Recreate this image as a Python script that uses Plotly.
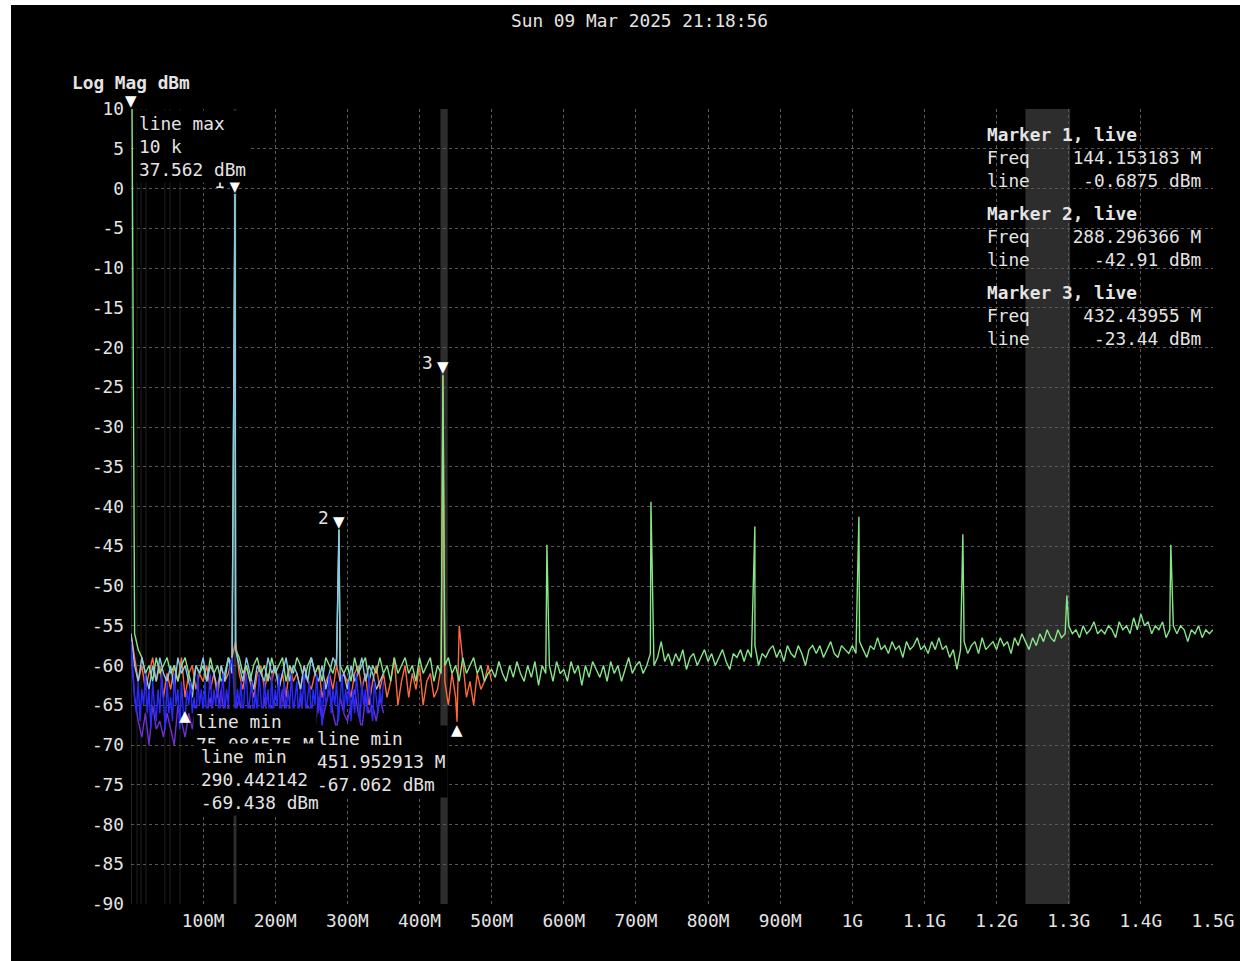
import plotly.graph_objects as go

# ---------------- data ----------------
title_text = "Sun 09 Mar 2025 21:18:56"
y_title = "Log Mag dBm"

x_tick_vals_mhz = [100, 200, 300, 400, 500, 600, 700, 800, 900, 1000, 1100, 1200, 1300, 1400, 1500]
x_tick_text = ["100M", "200M", "300M", "400M", "500M", "600M", "700M", "800M", "900M",
               "1G", "1.1G", "1.2G", "1.3G", "1.4G", "1.5G"]
y_tick_vals = [10, 5, 0, -5, -10, -15, -20, -25, -30, -35, -40, -45, -50, -55, -60, -65, -70, -75, -80, -85, -90]

# live trace (green), 0..1500 MHz, 5 MHz step
green_start, green_step = 0.0, 5.0
green_vals = [
    37.6, -56, -58, -59, -61, -60, -62, -59, -61, -60,
    -59, -61, -60, -62, -60, -59, -61, -63, -60, -61,
    -60, -62, -59, -61, -60, -62, -61, -59, -60, -58,
    -59, -61, -60, -62, -60, -59, -61, -60, -62, -59,
    -61, -60, -59, -62, -60, -61, -59, -60, -62, -60,
    -59, -61, -60, -62, -59, -60, -61, -59, -60, -61,
    -60, -62, -59, -61, -60, -59, -62, -60, -61, -59,
    -61, -60, -62, -59, -61, -60, -59, -61, -60, -62,
    -59, -61, -60, -59, -62, -60, -61, -60, -59, -61,
    -60, -62, -59, -61, -60, -59, -61, -60, -62, -61,
    -60.5, -61.5, -59.5, -61, -62, -60, -61.5, -59.5, -61, -62,
    -60, -61.5, -59.5, -62.5, -60, -61, -60, -62, -59.5, -61,
    -60.5, -62, -59.5, -61, -60, -62.5, -60, -61.5, -59.5, -60.5,
    -61.5, -60, -62, -59.5, -61, -60, -62, -60.5, -59, -61,
    -60, -59.5, -61, -60, -58.5, -60, -59, -57, -59.5, -58.5,
    -60, -58.5, -59.5, -58, -60.5, -59, -58.5, -60, -59, -58,
    -59.5, -58.5, -60, -59, -58, -59.5, -60.5, -58.5, -59, -58,
    -59.5, -58, -59, -57.5, -60, -58.5, -59, -58, -57.5, -59,
    -58, -59.5, -57.5, -58.5, -59, -57.5, -58.5, -60, -58, -57.5,
    -58.5, -57.5, -59, -58, -57, -58.5, -59, -57.5, -58, -58.5,
    -57.5, -58.5, -57, -58, -59, -57.5, -58, -56.5, -58, -57.5,
    -58.5, -57, -58, -57.5, -59, -57, -58, -57.5, -56.5, -58,
    -57.5, -58.5, -57, -58, -56.5, -58, -57.5, -59, -58, -60.5,
    -58, -57, -58.5, -57.5, -57, -58.5, -56.5, -58, -57.5, -57,
    -58, -56.5, -57.5, -57, -58.5, -56.5, -57.5, -56, -57, -58,
    -56.5, -57.5, -56, -57, -55.5, -56.5, -57, -55.5, -56.5, -56,
    -55, -56, -55.5, -56.5, -55, -56, -55.5, -54.5, -56, -55.5,
    -56, -55, -55.5, -56.5, -54.5, -55.5, -55, -56, -54, -55.5,
    -53.5, -55, -54.5, -56, -55, -55.5, -54.5, -56.5, -55.5, -55,
    -56, -55, -55.5, -57, -55.5, -56, -55, -56.5, -55.5, -56,
    -55.5,
]
green_spike_mhz = [144.153183, 288.296366, 432.43955, 576.6, 720.8, 864.9, 1009.1, 1153.2, 1297.4, 1441.5]
green_spike_dbm = [-0.6875, -42.91, -23.44, -44.8, -39.4, -42.5, -41.3, -43.5, -51.2, -44.8]

# blue trace, 0..350 MHz, 2.5 MHz step
blue_start, blue_step = 0.0, 2.5
blue_vals = [
    -57, -61, -64, -66, -62, -67, -63, -65, -61, -66,
    -63, -68, -62, -65, -67, -63, -66, -61, -65, -68,
    -62, -66, -64, -67, -61, -65, -63, -68, -62, -66,
    -67, -63, -65, -62, -66, -64, -68, -61, -65, -63,
    -66, -62, -67, -64, -61, -66, -63, -65, -62, -67,
    -64, -61, -66, -63, -65, -60, -59, -62, -66, -63,
    -65, -62, -67, -63, -61, -66, -64, -62, -67, -63,
    -66, -61, -64, -67, -62, -65, -63, -68, -61, -66,
    -63, -65, -61, -67, -64, -62, -66, -63, -65, -61,
    -66, -64, -62, -67, -63, -65, -61, -66, -64, -62,
    -67, -63, -65, -61, -66, -63, -68, -62, -65, -64,
    -61, -66, -63, -65, -62, -67, -64, -61, -66, -63,
    -65, -62, -67, -63, -66, -61, -64, -67, -62, -65,
    -63, -66, -61, -65, -67, -62, -64, -66, -63, -65,
    -62,
]

# purple trace, 0..350 MHz, 5 MHz step
purple_start, purple_step = 0.0, 5.0
purple_vals = [
    -58, -64, -67, -69, -66, -70, -65, -68, -67, -69,
    -66, -68, -70, -65, -67, -69, -66, -68, -65, -67,
    -69, -66, -64, -68, -66, -63, -67, -65, -68, -66,
    -64, -67, -69, -65, -67, -66, -68, -64, -67, -65,
    -68, -66, -63, -67, -65, -69, -66, -64, -67, -65,
    -66, -68, -64, -67, -65, -63, -66, -68, -64, -66,
    -67, -65, -63, -66, -68, -64, -66, -65, -67, -64,
    -66,
]

# orange trace, 0..500 MHz, 5 MHz step
orange_start, orange_step = 0.0, 5.0
orange_vals = [
    -56, -59, -62, -60, -63, -61, -59, -62, -60, -64,
    -61, -63, -60, -62, -59, -64, -61, -60, -63, -61,
    -62, -60, -63, -61, -64, -60, -62, -61, -59, -57,
    -61, -63, -60, -62, -64, -61, -60, -63, -61, -62,
    -60, -63, -61, -64, -60, -62, -61, -63, -60, -62,
    -63, -61, -60, -64, -62, -61, -63, -60, -62, -61,
    -62, -64, -61, -60, -63, -61, -65, -62, -60, -63,
    -61, -64, -62, -59, -65, -62, -60, -64, -61, -63,
    -60, -65, -62, -61, -64, -63, -60, -62, -65, -61,
    -64, -55, -60, -64, -62, -65, -61, -63, -62, -60,
    -62,
]
orange_spike_mhz = [432.43955, 451.952913]
orange_spike_dbm = [-23.6, -67.062]

# light blue trace, 0..350 MHz, 5 MHz step
lblue_start, lblue_step = 0.0, 5.0
lblue_vals = [
    -56, -60, -62, -59, -61, -63, -60, -62, -59, -61,
    -62, -60, -63, -59, -61, -60, -62, -64, -60, -61,
    -59, -62, -60, -61, -63, -60, -62, -59, -61, -58,
    -60, -62, -59, -61, -63, -60, -61, -62, -59, -61,
    -60, -63, -61, -59, -62, -60, -61, -63, -60, -62,
    -59, -61, -62, -60, -63, -61, -59, -60, -62, -61,
    -63, -60, -62, -61, -59, -62, -60, -61, -63, -62,
    -61,
]
lblue_spike_mhz = [144.153183, 288.296366]
lblue_spike_dbm = [-0.6875, -42.91]

# markers
peak_names = ["1", "2", "3"]
peak_mhz = [144.153183, 288.296366, 432.43955]
peak_dbm = [-0.6875, -42.91, -23.44]
peak_freq_text = ["144.153183 M", "288.296366 M", "432.43955 M"]
peak_level_text = ["-0.6875 dBm", "-42.91 dBm", "-23.44 dBm"]

max_mhz = 0.01
max_text = ["line max", "10 k", "37.562 dBm"]

min_mhz = [75.084575, 290.442142, 451.952913]
min_dbm = [-65.4, -69.438, -67.062]
min_text = [["line min", "75.084575 M", "-65.412 dBm"],
            ["line min", "290.442142 M", "-69.438 dBm"],
            ["line min", "451.952913 M", "-67.062 dBm"]]

# grey frequency bands (MHz)
band_lo = [0.3, 7.8, 13.4, 20.3, 46.5, 53.5, 67.5, 142.2, 429.0, 1240.0]
band_hi = [1.3, 8.8, 14.4, 21.3, 47.5, 54.5, 68.5, 146.2, 439.0, 1302.0]

# ---------------- helpers ----------------
def build(start, step, vals, sp_f=(), sp_v=()):
    pts = [(start + i * step, v) for i, v in enumerate(vals)] + list(zip(sp_f, sp_v))
    pts.sort(key=lambda p: p[0])
    return [p[0] * 1e6 for p in pts], [p[1] for p in pts]

MONO = "DejaVu Sans Mono"
FS = 17.8
TXT = "#e4e4e4"

fig = go.Figure()

def add(xs, ys, color, w=1.4):
    fig.add_trace(go.Scatter(x=xs, y=ys, mode="lines", line=dict(color=color, width=w),
                             hoverinfo="skip"))

add(*build(purple_start, purple_step, purple_vals), "#6d2fd6")
add(*build(orange_start, orange_step, orange_vals, orange_spike_mhz, orange_spike_dbm), "#ff6a3c")
add(*build(green_start, green_step, green_vals, green_spike_mhz, green_spike_dbm), "#86e586")
add(*build(lblue_start, lblue_step, lblue_vals, lblue_spike_mhz, lblue_spike_dbm), "#8cc8ec")
add(*build(blue_start, blue_step, blue_vals), "#2a2aff")

# ---------------- layout ----------------
W, H = 1240, 961
L, R, T, B = 131, 27, 109, 57
pw, ph = W - L - R, H - T - B

def px(xp):                  # page x pixel -> paper fraction
    return (xp - L) / pw

def py(yp):                  # page y pixel -> paper fraction
    return (H - B - yp) / ph

shapes = [dict(type="rect", xref="paper", yref="paper", x0=px(11), x1=px(W),
               y0=py(H), y1=py(5), fillcolor="black", line=dict(width=0), layer="below")]
for lo, hi in zip(band_lo, band_hi):
    shapes.append(dict(type="rect", xref="x", yref="paper", x0=lo * 1e6, x1=hi * 1e6, y0=0, y1=1,
                       fillcolor="#2d2d2d", line=dict(width=0), layer="between"))

ann = []
ann.append(dict(text=title_text, xref="paper", yref="paper", x=px(639), y=py(20),
                xanchor="center", yanchor="middle", showarrow=False,
                font=dict(family=MONO, size=FS, color=TXT)))
ann.append(dict(text="<b>" + y_title + "</b>", xref="paper", yref="paper", x=px(70), y=py(82),
                xanchor="left", yanchor="middle", showarrow=False,
                font=dict(family=MONO, size=FS, color=TXT)))

# peak markers
for n, f, v in zip(peak_names, peak_mhz, peak_dbm):
    ann.append(dict(text=n, x=f * 1e6, y=v, xanchor="right", yanchor="bottom", xshift=-8, yshift=0,
                    showarrow=False, font=dict(family=MONO, size=FS, color=TXT)))
    ann.append(dict(text="▼", x=f * 1e6, y=v, xanchor="center", yanchor="bottom", yshift=-3,
                    showarrow=False, font=dict(family="DejaVu Sans", size=15, color="white")))

# line max
ann.append(dict(text="▼", x=max_mhz * 1e6, y=10, xanchor="center", yanchor="bottom", yshift=-3,
                showarrow=False, font=dict(family="DejaVu Sans", size=15, color="white")))
ann.append(dict(text="<br>".join(max_text), x=max_mhz * 1e6, y=10, xanchor="left", yanchor="top",
                xshift=5, yshift=-1, align="left", showarrow=False, bgcolor="black", borderpad=2,
                font=dict(family=MONO, size=FS, color=TXT)))

# min markers
min_shift = [(8, 0), (-143, -2), (-143, -3)]
for f, v in zip(min_mhz, min_dbm):
    ann.append(dict(text="▲", x=f * 1e6, y=v, xanchor="center", yanchor="top", yshift=3,
                    showarrow=False, font=dict(family="DejaVu Sans", size=15, color="white")))
for f, v, t, (xs, ys) in zip(min_mhz, min_dbm, min_text, min_shift):
    ann.append(dict(text="<br>".join(t), x=f * 1e6, y=v, xanchor="left", yanchor="top",
                    xshift=xs, yshift=ys, align="left", showarrow=False, bgcolor="black", borderpad=2,
                    font=dict(family=MONO, size=FS, color=TXT)))

# marker readout panel
panel_top = [122, 201, 280]
for i, (ft, lt) in enumerate(zip(peak_freq_text, peak_level_text)):
    freq_line = "Freq" + " " * (16 - len(ft)) + ft
    lvl_line = "line" + " " * (16 - len(lt)) + lt
    txt = "<b>Marker %d, live</b><br>%s<br>%s" % (i + 1, freq_line.replace(" ", "&nbsp;"),
                                                   lvl_line.replace(" ", "&nbsp;"))
    ann.append(dict(text=txt, xref="paper", yref="paper", x=px(985), y=py(panel_top[i]),
                    xanchor="left", yanchor="top", align="left", showarrow=False,
                    font=dict(family=MONO, size=FS, color=TXT)))

fig.update_layout(
    width=W, height=H,
    margin=dict(l=L, r=R, t=T, b=B, pad=0, autoexpand=False),
    paper_bgcolor="white", plot_bgcolor="black",
    showlegend=False,
    font=dict(family=MONO, size=FS, color=TXT),
    shapes=shapes, annotations=ann,
    xaxis=dict(range=[0, 1.5e9], tickvals=[v * 1e6 for v in x_tick_vals_mhz], ticktext=x_tick_text,
               showgrid=True, gridcolor="#585858", griddash="dot", gridwidth=1, automargin=False,
               zeroline=False, showline=False, ticks="", ticklabelstandoff=4,
               tickfont=dict(family=MONO, size=FS, color=TXT)),
    yaxis=dict(range=[-90, 10], tickvals=y_tick_vals, ticktext=[str(v) for v in y_tick_vals],
               showgrid=True, gridcolor="#585858", griddash="dot", gridwidth=1, automargin=False,
               zeroline=False, showline=False, ticks="", ticklabelstandoff=6,
               tickfont=dict(family=MONO, size=FS, color=TXT)),
)

fig.write_html("out.html", config={"displayModeBar": False},
               post_script="document.body.style.margin='0px';")
